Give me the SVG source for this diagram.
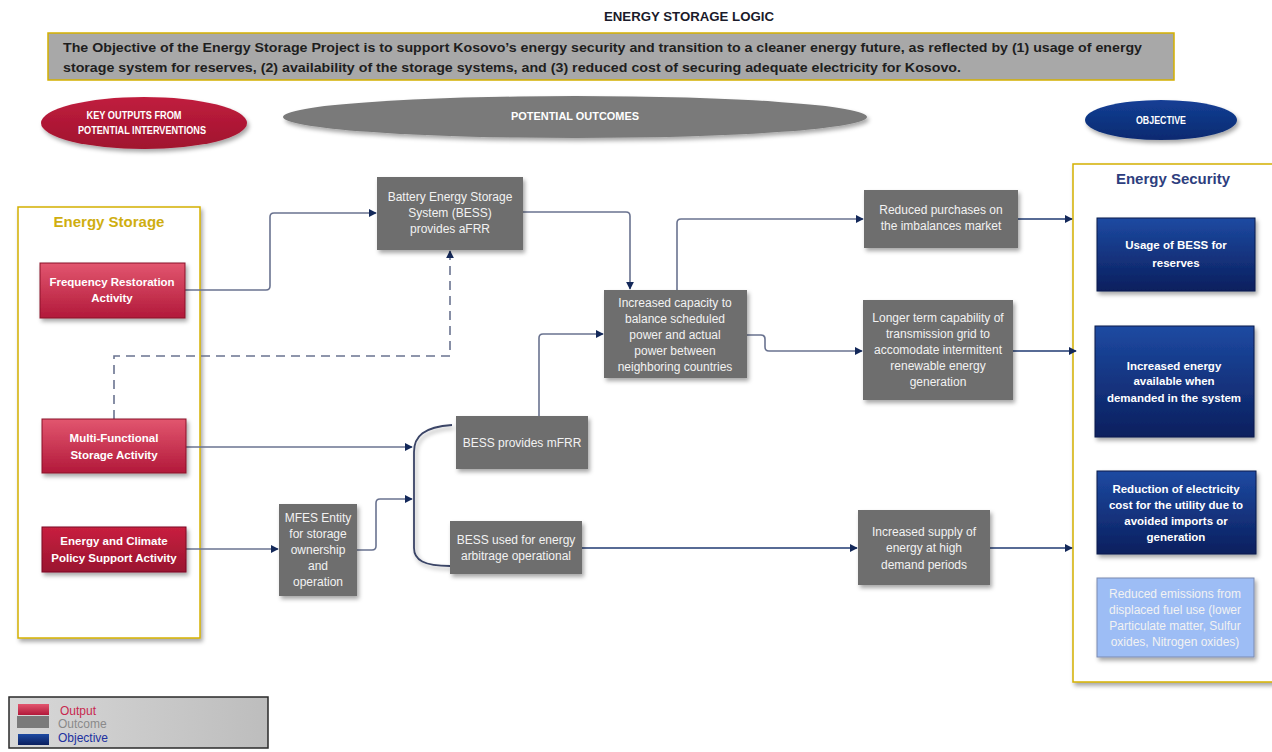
<svg xmlns="http://www.w3.org/2000/svg" width="1272" height="752" viewBox="0 0 1272 752">
<defs>
<linearGradient id="gRed" x1="0" y1="0" x2="0" y2="1"><stop offset="0" stop-color="#e2566f"/><stop offset="1" stop-color="#b2193a"/></linearGradient>
<linearGradient id="gRed2" x1="0" y1="0" x2="0" y2="1"><stop offset="0" stop-color="#c8203f"/><stop offset="1" stop-color="#9a1430"/></linearGradient>
<linearGradient id="gBlue" x1="0" y1="0" x2="0" y2="1"><stop offset="0" stop-color="#1d4aa2"/><stop offset="1" stop-color="#0b1f5e"/></linearGradient>
<linearGradient id="gRedEl" x1="0" y1="0" x2="0" y2="1"><stop offset="0" stop-color="#c01e3e"/><stop offset="1" stop-color="#a0122e"/></linearGradient>
<linearGradient id="gBlueEl" x1="0" y1="0" x2="0" y2="1"><stop offset="0" stop-color="#143f95"/><stop offset="1" stop-color="#0a2a70"/></linearGradient>
<linearGradient id="gLeg" x1="0" y1="0" x2="1" y2="0"><stop offset="0" stop-color="#d8d8d8"/><stop offset="1" stop-color="#bdbdbd"/></linearGradient>
<filter id="sh" x="-20%" y="-20%" width="150%" height="150%"><feDropShadow dx="2" dy="3" stdDeviation="2" flood-color="#000" flood-opacity="0.35"/></filter>
<marker id="ar" viewBox="0 0 10 10" refX="9" refY="5" markerWidth="8" markerHeight="8" orient="auto" markerUnits="userSpaceOnUse"><path d="M0,0 L10,5 L0,10 z" fill="#14295a"/></marker>
<style>
.t{font-family:"Liberation Sans",Arial,sans-serif}
.bt{font-family:"Liberation Sans",Arial,sans-serif;font-size:11.5px;fill:#fff;text-anchor:middle;font-weight:bold}
.gt{font-family:"Liberation Sans",Arial,sans-serif;font-size:12px;fill:#f2f2f2;text-anchor:middle}
.grey{fill:#6e6e6e;filter:url(#sh)}
.red{fill:url(#gRed);stroke:#8a1028;stroke-width:1;filter:url(#sh)}
.blue{fill:url(#gBlue);stroke:#0a1a4a;stroke-width:1;filter:url(#sh)}
.ln{fill:none;stroke:#6a7390;stroke-width:1.6}
.nv{fill:none;stroke:#1f3a72;stroke-width:1.6}
</style>
</defs>
<rect width="1272" height="752" fill="#fff"/>

<g id="header">
<text class="t" x="689" y="21" font-size="13" font-weight="bold" text-anchor="middle" fill="#1a1a2a" textLength="170" lengthAdjust="spacingAndGlyphs">ENERGY STORAGE LOGIC</text>
<rect x="48" y="33" width="1126" height="47" fill="#a8a8a8" stroke="#d4b000" stroke-width="1.5"/>
<text class="t" x="63" y="52" font-size="13" font-weight="bold" fill="#1e1e1e" textLength="1079" lengthAdjust="spacingAndGlyphs">The Objective of the Energy Storage Project is to support Kosovo’s energy security and transition to a cleaner energy future, as reflected by (1) usage of energy</text>
<text class="t" x="63" y="72" font-size="13" font-weight="bold" fill="#1e1e1e" textLength="898" lengthAdjust="spacingAndGlyphs">storage system for reserves, (2) availability of the storage systems, and (3) reduced cost of securing adequate electricity for Kosovo.</text>
</g>

<g id="ellipse-outputs">
<ellipse cx="144" cy="123" rx="103" ry="26" fill="url(#gRedEl)" filter="url(#sh)"/>
<text class="t" x="134" y="119" font-size="11" font-weight="bold" fill="#fff" text-anchor="middle" textLength="95" lengthAdjust="spacingAndGlyphs">KEY OUTPUTS FROM</text>
<text class="t" x="142" y="134" font-size="11" font-weight="bold" fill="#fff" text-anchor="middle" textLength="128" lengthAdjust="spacingAndGlyphs">POTENTIAL INTERVENTIONS</text>
</g>
<g id="ellipse-outcomes">
<ellipse cx="575" cy="117" rx="292" ry="21" fill="#7a7a7a" filter="url(#sh)"/>
<text class="t" x="575" y="120" font-size="11" font-weight="bold" fill="#fff" text-anchor="middle" textLength="128" lengthAdjust="spacingAndGlyphs">POTENTIAL OUTCOMES</text>
</g>
<g id="ellipse-objective">
<ellipse cx="1161" cy="120" rx="76" ry="20" fill="url(#gBlueEl)" filter="url(#sh)"/>
<text class="t" x="1161" y="124" font-size="11" font-weight="bold" fill="#fff" text-anchor="middle" textLength="50" lengthAdjust="spacingAndGlyphs">OBJECTIVE</text>
</g>

<g id="group-energy-storage">
<rect x="18" y="207" width="182" height="431" fill="#fff" stroke="#d4b000" stroke-width="1.5" filter="url(#sh)"/>
<text class="t" x="109" y="227" font-size="15" font-weight="bold" fill="#cfae10" text-anchor="middle">Energy Storage</text>
</g>
<g id="group-energy-security">
<rect x="1073" y="164" width="210" height="518" fill="#fff" stroke="#d4b000" stroke-width="1.5" filter="url(#sh)"/>
<text class="t" x="1173" y="184" font-size="15" font-weight="bold" fill="#2d3e7e" text-anchor="middle">Energy Security</text>
</g>

<g id="connectors">
<path class="ln" d="M185,290 H266 Q270,290 270,286 V217 Q270,213 274,213 H376" marker-end="url(#ar)"/>
<path class="ln" d="M114,419 V356 H450 V251" stroke-dasharray="9,6" marker-end="url(#ar)"/>
<path class="ln" d="M186,447 H412" marker-end="url(#ar)"/>
<path class="ln" d="M186,549 H278" marker-end="url(#ar)"/>
<path class="ln" d="M357,550 H372 Q376,550 376,546 V503 Q376,499 380,499 H412" marker-end="url(#ar)"/>
<path d="M452,425 C424,427 414,436 414,452 L414,548 C414,560 424,566 450,566" fill="none" stroke="#3a4466" stroke-width="1.8" filter="url(#sh)"/>
<path class="ln" d="M539,416 V338 Q539,334 543,334 H603" marker-end="url(#ar)"/>
<path class="ln" d="M523,212 H626 Q630,212 630,216 V289" marker-end="url(#ar)"/>
<path class="ln" d="M677,290 V223 Q677,219 681,219 H863" marker-end="url(#ar)"/>
<path class="ln" d="M747,335 H761 Q765,335 765,339 V347 Q765,351 769,351 H862" marker-end="url(#ar)"/>
<path class="nv" d="M582,548 H857" marker-end="url(#ar)"/>
<path class="nv" d="M1018,219 H1072" marker-end="url(#ar)"/>
<path class="nv" d="M1013,351 H1076" marker-end="url(#ar)"/>
<path class="nv" d="M990,548 H1072" marker-end="url(#ar)"/>
</g>

<g id="node-freq">
<rect class="red" x="40" y="263" width="145" height="55"/>
<text class="bt" x="112" y="286">Frequency Restoration</text>
<text class="bt" x="112" y="302">Activity</text>
</g>
<g id="node-multi">
<rect class="red" x="42" y="419" width="144" height="54"/>
<text class="bt" x="114" y="442">Multi-Functional</text>
<text class="bt" x="114" y="459">Storage Activity</text>
</g>
<g id="node-climate">
<rect x="42" y="527" width="144" height="45" fill="url(#gRed2)" stroke="#7a0c22" filter="url(#sh)"/>
<text class="bt" x="114" y="545">Energy and Climate</text>
<text class="bt" x="114" y="562">Policy Support Activity</text>
</g>

<g id="node-afrr">
<rect class="grey" x="377" y="177" width="146" height="73"/>
<text class="gt" x="450" y="201">Battery Energy Storage</text>
<text class="gt" x="450" y="217">System (BESS)</text>
<text class="gt" x="450" y="233">provides aFRR</text>
</g>
<g id="node-capacity">
<rect class="grey" x="604" y="290" width="143" height="88"/>
<text class="gt" x="675" y="307">Increased capacity to</text>
<text class="gt" x="675" y="323">balance scheduled</text>
<text class="gt" x="675" y="339">power and actual</text>
<text class="gt" x="675" y="355">power between</text>
<text class="gt" x="675" y="371">neighboring countries</text>
</g>
<g id="node-mfrr">
<rect class="grey" x="456" y="416" width="132" height="53"/>
<text class="gt" x="522" y="447">BESS provides mFRR</text>
</g>
<g id="node-arbitrage">
<rect class="grey" x="450" y="521" width="132" height="53"/>
<text class="gt" x="516" y="544">BESS used for energy</text>
<text class="gt" x="516" y="560">arbitrage operational</text>
</g>
<g id="node-mfes">
<rect class="grey" x="279" y="504" width="78" height="92"/>
<text class="gt" x="318" y="522">MFES Entity</text>
<text class="gt" x="318" y="538">for storage</text>
<text class="gt" x="318" y="554">ownership</text>
<text class="gt" x="318" y="570">and</text>
<text class="gt" x="318" y="586">operation</text>
</g>
<g id="node-purchases">
<rect class="grey" x="864" y="190" width="154" height="58"/>
<text class="gt" x="941" y="214">Reduced purchases on</text>
<text class="gt" x="941" y="230">the imbalances market</text>
</g>
<g id="node-longer">
<rect class="grey" x="863" y="300" width="150" height="100"/>
<text class="gt" x="938" y="322">Longer term capability of</text>
<text class="gt" x="938" y="338">transmission grid to</text>
<text class="gt" x="938" y="354">accomodate intermittent</text>
<text class="gt" x="938" y="370">renewable energy</text>
<text class="gt" x="938" y="386">generation</text>
</g>
<g id="node-supply">
<rect class="grey" x="858" y="510" width="132" height="75"/>
<text class="gt" x="924" y="536">Increased supply of</text>
<text class="gt" x="924" y="552">energy at high</text>
<text class="gt" x="924" y="569">demand periods</text>
</g>

<g id="node-usage">
<rect class="blue" x="1097" y="218" width="158" height="73"/>
<text class="bt" x="1176" y="249">Usage of BESS for</text>
<text class="bt" x="1176" y="267">reserves</text>
</g>
<g id="node-available">
<rect class="blue" x="1095" y="326" width="159" height="111"/>
<text class="bt" x="1174" y="370">Increased energy</text>
<text class="bt" x="1174" y="385">available when</text>
<text class="bt" x="1174" y="402">demanded in the system</text>
</g>
<g id="node-cost">
<rect class="blue" x="1097" y="471" width="159" height="83"/>
<text class="bt" x="1176" y="493">Reduction of electricity</text>
<text class="bt" x="1176" y="509">cost for the utility due to</text>
<text class="bt" x="1176" y="525">avoided imports or</text>
<text class="bt" x="1176" y="541">generation</text>
</g>
<g id="node-emissions">
<rect x="1097" y="578" width="157" height="79" fill="#9dbdf5" stroke="#7a8ab0" stroke-width="1" filter="url(#sh)"/>
<text class="gt" x="1175" y="598" fill="#e8f0ff">Reduced emissions from</text>
<text class="gt" x="1175" y="614">displaced fuel use (lower</text>
<text class="gt" x="1175" y="630">Particulate matter, Sulfur</text>
<text class="gt" x="1175" y="646">oxides, Nitrogen oxides)</text>
</g>

<g id="legend">
<rect x="9" y="697" width="259" height="51" fill="url(#gLeg)" stroke="#2a2a2a" stroke-width="1.5"/>
<rect x="18" y="704" width="31" height="11" fill="url(#gRed)"/>
<rect x="17" y="716" width="32" height="12" fill="#7a7a7a"/>
<rect x="18" y="734" width="31" height="11" fill="url(#gBlue)"/>
<text class="t" x="60" y="715" font-size="12" fill="#c8284e">Output</text>
<text class="t" x="58" y="728" font-size="12" fill="#8a8a8a">Outcome</text>
<text class="t" x="58" y="742" font-size="12" fill="#2030a0">Objective</text>
</g>
</svg>
